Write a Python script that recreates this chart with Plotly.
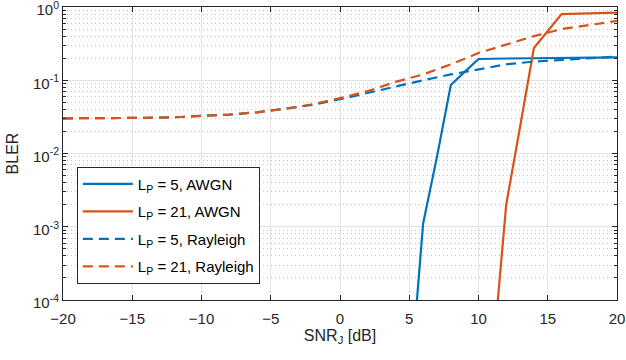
import plotly.graph_objects as go

# SNR_J [dB] and BLER values
snr_awgn5 = [5, 6, 7, 8, 9, 10, 12, 14, 16, 18, 20]
bler_awgn5 = [5e-6, 1.1e-3, 9e-3, 0.086, 0.13, 0.195, 0.198, 0.2, 0.2, 0.202, 0.205]

snr_awgn21 = [11, 12, 13, 14, 15, 16, 18, 20]
bler_awgn21 = [1.4e-5, 2.0e-3, 0.023, 0.275, 0.47, 0.80, 0.82, 0.836]

snr_ray = [-20, -18, -16, -14, -12, -10, -8, -6, -4, -2, 0,
           2, 4, 6, 8, 10, 12, 14, 16, 18, 20]
bler_ray5 = [0.0302, 0.0302, 0.0304, 0.0307, 0.0312, 0.0322, 0.034, 0.0365, 0.0405, 0.046, 0.055,
             0.067, 0.083, 0.10, 0.12, 0.142, 0.165, 0.18, 0.19, 0.20, 0.21]
bler_ray21 = [0.0302, 0.0302, 0.0304, 0.0307, 0.0312, 0.0322, 0.034, 0.0365, 0.0405, 0.047, 0.057,
              0.071, 0.095, 0.12, 0.165, 0.235, 0.31, 0.40, 0.50, 0.57, 0.645]

x_ticks = [-20, -15, -10, -5, 0, 5, 10, 15, 20]
y_ticks = [1e-4, 1e-3, 1e-2, 1e-1, 1]
y_ticktext = ["10<sup>-4</sup>", "10<sup>-3</sup>", "10<sup>-2</sup>", "10<sup>-1</sup>", "10<sup>0</sup>"]
y_minor = [m * 10.0 ** k for k in range(-4, 0) for m in range(2, 10)]

blue = "#0072BD"
orange = "#D95319"
ink = "#262626"

fig = go.Figure()
fig.add_trace(go.Scatter(x=snr_awgn5, y=bler_awgn5, mode="lines", name="L<sub>P</sub> = 5, AWGN",
                         line=dict(color=blue, width=2.2), legendgroup="a"))
fig.add_trace(go.Scatter(x=snr_awgn21, y=bler_awgn21, mode="lines", name="L<sub>P</sub> = 21, AWGN",
                         line=dict(color=orange, width=2.2), legendgroup="b"))
fig.add_trace(go.Scatter(x=snr_ray, y=bler_ray5, mode="lines", name="L<sub>P</sub> = 5, Rayleigh",
                         line=dict(color=blue, width=2.2, dash="10px,6px"), legendgroup="c"))
fig.add_trace(go.Scatter(x=snr_ray, y=bler_ray21, mode="lines", name="L<sub>P</sub> = 21, Rayleigh",
                         line=dict(color=orange, width=2.2, dash="10px,6px"), legendgroup="d"))

fig.update_layout(
    width=626, height=360,
    margin=dict(l=63, r=9, t=7, b=60, autoexpand=False),
    plot_bgcolor="white", paper_bgcolor="white",
    font=dict(family="Liberation Sans, Arial, sans-serif", size=15, color=ink),
    legend=dict(x=0.025, y=0.455, xanchor="left", yanchor="top",
                bgcolor="white", bordercolor=ink, borderwidth=1, itemwidth=50,
                font=dict(size=15, color="black"), tracegroupgap=5),
    xaxis=dict(
        title=dict(text="SNR<sub>J</sub> [dB]", font=dict(size=16), standoff=2),
        range=[-20, 20], tickvals=x_ticks, ticks="inside", ticklen=5, tickcolor=ink,
        showline=True, linecolor=ink, linewidth=1, mirror="allticks", automargin=False,
        ticklabeloverflow="allow", ticklabelstandoff=5,
        showgrid=True, gridcolor="#e3e3e3", gridwidth=1, zeroline=False,
    ),
    yaxis=dict(
        title=dict(text="BLER", font=dict(size=16), standoff=10),
        type="log", range=[-4.0001, 0.0001], tickvals=y_ticks, ticktext=y_ticktext,
        ticks="inside", ticklen=5, tickcolor=ink, automargin=False,
        ticklabeloverflow="allow", ticklabelshift=3,
        showline=True, linecolor=ink, linewidth=1, mirror="allticks",
        showgrid=True, gridcolor="#e3e3e3", gridwidth=1, zeroline=False,
        minor=dict(tickvals=y_minor, ticks="inside", ticklen=3, tickcolor=ink,
                   showgrid=True, gridcolor="#c4c4c4", griddash="1px,3px", gridwidth=1),
    ),
)

# page body has a default 8px margin; drop it so the figure sits at the window corner
fig.write_html("out.html", config={"displayModeBar": False},
               post_script="document.body.style.margin='0';")
